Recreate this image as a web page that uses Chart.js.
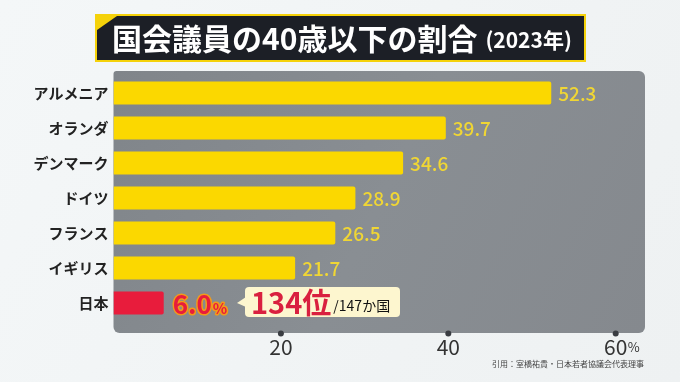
<!DOCTYPE html>
<html><head><meta charset="utf-8">
<script src="https://cdn.jsdelivr.net/npm/chart.js@4/dist/chart.umd.min.js"></script>
<style>html,body{margin:0;padding:0;background:#f1f4f5;}canvas{display:block;}</style>
</head><body>
<canvas id="c" width="680" height="382"></canvas>
<script>
const categories = ['アルメニア','オランダ','デンマーク','ドイツ','フランス','イギリス','日本'];
const shares = [52.3, 39.7, 34.6, 28.9, 26.5, 21.7, 6.0];
const tickValues = [20, 40, 60];
const highlightCategory = '日本';
const japanRank = 134;
const totalCountries = 147;
const titleText = '国会議員の40歳以下の割合';
const titleYear = '(2023年)';
const sourceText = '引用：室橋祐貴・日本若者協議会代表理事';

const FONT = '"Noto Sans CJK JP", "Noto Sans", sans-serif';
const YELLOW = '#fbd800';
const RED = '#e81c3c';

const decor = {
  id: 'decor',
  beforeDraw(chart) {
    const ctx = chart.ctx, a = chart.chartArea;
    ctx.save();
    const bg = ctx.createLinearGradient(0, 0, 680, 382);
    bg.addColorStop(0, '#f4f7f8'); bg.addColorStop(1, '#eef1f2');
    ctx.fillStyle = bg; ctx.fillRect(0, 0, chart.width, chart.height);
    const x0 = a.left, x1 = a.right, y0 = a.top - 4.5, y1 = a.bottom + 12.5;
    const g = ctx.createLinearGradient(x0, y0, x1, y1);
    g.addColorStop(0, '#80858a'); g.addColorStop(0.5, '#898e93'); g.addColorStop(1, '#85898e');
    ctx.fillStyle = g;
    ctx.beginPath(); ctx.roundRect(x0, y0, x1 - x0, y1 - y0, [3, 6, 6, 6]); ctx.fill();
    ctx.restore();
  },
  afterDraw(chart) {
    const ctx = chart.ctx, a = chart.chartArea;
    const xs = chart.scales.x;
    const meta = chart.getDatasetMeta(0);
    ctx.save();
    // title box
    const tx = 97, ty = 16, tw = 487, th = 44;
    ctx.fillStyle = '#f5d20a';
    ctx.fillRect(tx - 2, ty - 2, tw + 4, th + 4);
    ctx.fillStyle = '#1c1f26';
    ctx.fillRect(tx, ty, tw, th);
    ctx.fillStyle = '#f5d20a';
    ctx.beginPath(); ctx.moveTo(tx, ty); ctx.lineTo(tx + 20, ty); ctx.lineTo(tx, ty + 14); ctx.closePath(); ctx.fill();
    ctx.fillStyle = '#ffffff';
    ctx.textBaseline = 'middle';
    ctx.textAlign = 'left';
    ctx.font = 'bold 30px ' + FONT;
    ctx.fillText(titleText, 112, ty + th / 2 + 1);
    const w1 = ctx.measureText(titleText).width;
    ctx.font = 'bold 21px ' + FONT;
    ctx.fillText(titleYear, 112 + w1 + 8, ty + th / 2 + 2);

    // tick dots
    ctx.fillStyle = '#3a3d42';
    tickValues.forEach(v => {
      ctx.beginPath(); ctx.arc(xs.getPixelForValue(v), a.bottom + 13, 3, 0, Math.PI * 2); ctx.fill();
    });
    ctx.fillStyle = '#333';
    ctx.font = '13px ' + FONT;
    ctx.textBaseline = 'alphabetic';
    ctx.fillText('%', xs.getPixelForValue(60) + 12, 352);

    meta.data.forEach((bar, i) => {
      const cat = categories[i];
      const val = shares[i];
      if (cat === highlightCategory) {
        const x = bar.x + 9, y = bar.y + 1;
        ctx.textBaseline = 'middle'; ctx.textAlign = 'left';
        ctx.lineJoin = 'round';
        ctx.font = 'bold 26px ' + FONT;
        const s = val.toFixed(1);
        ctx.strokeStyle = '#f29a1a'; ctx.lineWidth = 3;
        ctx.strokeText(s, x, y);
        ctx.fillStyle = RED; ctx.fillText(s, x, y);
        const sw = ctx.measureText(s).width;
        ctx.font = 'bold 15px ' + FONT;
        ctx.strokeText('%', x + sw + 1, y + 4);
        ctx.fillText('%', x + sw + 1, y + 4);
        const bx = 245, by = bar.y - 16, bw = 155, bh = 30;
        ctx.fillStyle = '#fdf6cf';
        ctx.beginPath(); ctx.roundRect(bx, by, bw, bh, 4); ctx.fill();
        ctx.beginPath(); ctx.moveTo(bx + 1, bar.y - 6); ctx.lineTo(bx - 8, bar.y); ctx.lineTo(bx + 1, bar.y + 4); ctx.closePath(); ctx.fill();
        ctx.fillStyle = '#d9203f';
        ctx.font = 'bold 29px ' + FONT;
        const r = japanRank + '位';
        ctx.fillText(r, bx + 6, bar.y + 0);
        const rw = ctx.measureText(r).width;
        ctx.fillStyle = '#111';
        ctx.font = '14px ' + FONT;
        ctx.fillText('/' + totalCountries + 'か国', bx + 6 + rw + 2, bar.y + 3);
      } else {
        ctx.fillStyle = '#f0d634';
        ctx.font = '500 19px ' + FONT;
        ctx.textBaseline = 'middle'; ctx.textAlign = 'left';
        ctx.fillText(val.toFixed(1), bar.x + 7, bar.y + 1);
      }
    });

    ctx.fillStyle = '#444';
    ctx.font = '8px ' + FONT;
    ctx.textAlign = 'right'; ctx.textBaseline = 'middle';
    ctx.fillText(sourceText, 644, 364);
    ctx.restore();
  }
};

new Chart(document.getElementById('c'), {
  type: 'bar',
  data: {
    labels: categories,
    datasets: [{
      data: shares,
      backgroundColor: categories.map(c => c === highlightCategory ? RED : YELLOW),
      borderRadius: { topLeft: 0, bottomLeft: 0, topRight: 2, bottomRight: 2 },
      borderSkipped: false,
      barPercentage: 0.66,
      categoryPercentage: 1
    }]
  },
  options: {
    indexAxis: 'y',
    responsive: false,
    animation: false,
    devicePixelRatio: 1,
    layout: { padding: { top: 75.5, right: 35, left: 0, bottom: 0 } },
    plugins: { legend: { display: false }, tooltip: { enabled: false } },
    scales: {
      x: {
        min: 0, max: 63.5,
        afterBuildTicks(s) { s.ticks = tickValues.map(v => ({ value: v })); },
        afterFit(s) { s.height = 61.5; },
        grid: { display: false, drawTicks: false },
        border: { display: false },
        ticks: { padding: 14, color: '#333', font: { family: FONT, size: 21 } }
      },
      y: {
        afterFit(s) { s.width = 113.5; },
        grid: { display: false, drawTicks: false },
        border: { display: false },
        ticks: { padding: 5, color: '#222', font: { family: FONT, size: 15, weight: 'bold' } }
      }
    }
  },
  plugins: [decor]
});
</script>
</body></html>
